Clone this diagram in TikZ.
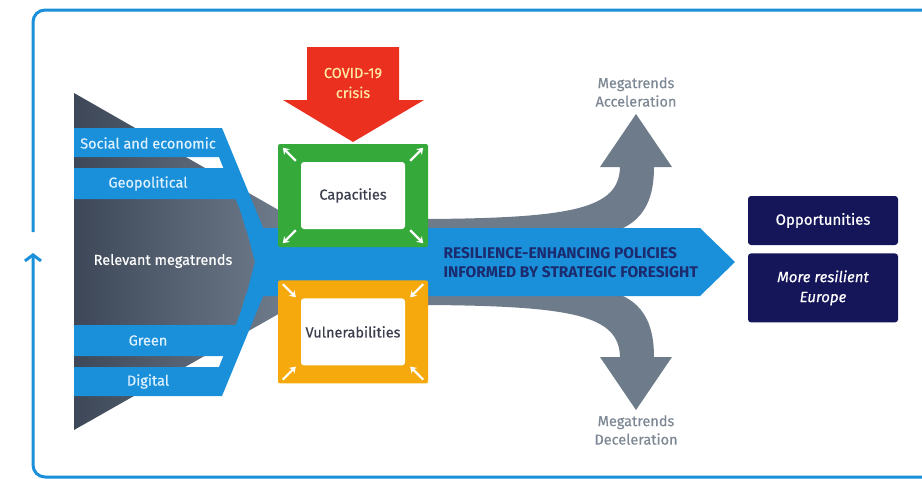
\documentclass[tikz,border=0pt]{standalone}
\usepackage{fontspec}
\setmainfont{Fira Sans}
\newfontfamily\semifont{Fira Sans}[FakeBold=0.5]
\usetikzlibrary{positioning,calc,arrows.meta}

\definecolor{ecblue}{HTML}{1A8FDA}
\definecolor{ecgrey}{HTML}{6E7B8B}
\definecolor{ecdark}{HTML}{3D4757}
\definecolor{ecnavy}{HTML}{15165A}
\definecolor{ecred}{HTML}{EC3020}
\definecolor{ecgreen}{HTML}{35A93A}
\definecolor{ecorange}{HTML}{F6A90D}
\definecolor{ecink}{HTML}{1C2A6E}
\definecolor{ecpale}{HTML}{DDF1FF}
\definecolor{eccream}{HTML}{FDE8A4}
\definecolor{ectrend}{HTML}{7D8894}
\definecolor{ecboxtext}{HTML}{3B3F4D}

\tikzset{
  band/.style={fill=ecblue},
  bandlabel/.style={text=ecpale, font=\semifont\fontsize{14.5}{16}\selectfont},
  framebox/.style={minimum width=150pt, minimum height=103pt, rounded corners=2pt, inner sep=0pt},
  innerbox/.style={fill=white, minimum width=104pt, minimum height=67pt, rounded corners=3pt,
    text=ecboxtext, font=\semifont\fontsize{14.5}{16}\selectfont},
  cornerarrow/.style={white, line width=2.2pt, -{Stealth[length=6pt,width=8pt]}},
  navybox/.style={fill=ecnavy, text=white, minimum width=150pt, rounded corners=3pt,
    align=center, font=\semifont\fontsize{15}{20}\selectfont},
  trendlabel/.style={text=ectrend, align=center, font=\semifont\fontsize{14.5}{18.5}\selectfont}
}

\begin{document}
\begin{tikzpicture}[x=1pt,y=-1pt]
  \useasboundingbox (0,0) rectangle (922,479);

  % frame
  \draw[ecblue, line width=3pt, rounded corners=12pt] (930,10) -- (33,10) -- (33,232);
  \draw[ecblue, line width=3pt, rounded corners=12pt, -{Straight Barb[length=6pt,width=16pt]}]
    (930,477) -- (33,477) -- (33,253);

  % grey funnel and curved megatrend arrows
  \shade[left color=ecdark, right color=ecgrey] (74,93) -- (282,212) -- (282,312) -- (74,430) -- cycle;
  \fill[ecgrey] (280,212) -- (428,219) .. controls (575,218) and (619,208) .. (620,167)
    -- (600,167) -- (636,114) -- (672,167) -- (654,167)
    .. controls (654,205) and (640,232) .. (590,236) -- (280,236) -- cycle;
  \fill[ecgrey] (280,312) -- (428,305) .. controls (575,306) and (619,316) .. (620,357)
    -- (600,357) -- (636,410) -- (672,357) -- (654,357)
    .. controls (654,319) and (640,292) .. (590,288) -- (280,288) -- cycle;

  % main band
  \fill[band] (246,228) -- (700,228) -- (735,262) -- (700,296) -- (246,296) -- (255,262) -- cycle;

  % megatrend bands
  \fill[band] (74,128) -- (222,128) -- (264,230) -- (248,230) -- (219,157) -- (74,157) -- cycle;
  \fill[band] (74,168) -- (226,168) -- (254,230) -- (246,230) -- (237,199) -- (74,199) -- cycle;
  \fill[band] (74,356) -- (226,356) -- (254,294) -- (246,294) -- (237,325) -- (74,325) -- cycle;
  \fill[band] (74,396) -- (222,396) -- (264,294) -- (248,294) -- (219,367) -- (74,367) -- cycle;

  \node[bandlabel] (social) at (148,143) {Social and economic};
  \node[bandlabel] (geo) at (148,183.5) {Geopolitical};
  \node[bandlabel] (green) at (148,340.5) {Green};
  \node[bandlabel] (digital) at (148,381.5) {Digital};
  \node[bandlabel, text=white] (relevant) at (163,261) {Relevant megatrends};

  % capacities and vulnerabilities
  \node[framebox, fill=ecgreen] (cap) at (353,195.5) {};
  \node[innerbox] (capin) at (cap) {Capacities};
  \node[framebox, fill=ecorange, below=33pt of cap] (vul) {};
  \node[innerbox] (vulin) at (vul) {Vulnerabilities};
  \foreach \a/\sx/\sy in {north west/1/1, north east/-1/1, south west/1/-1, south east/-1/-1} {
    \draw[cornerarrow] ($(cap.\a)+({18*\sx},{17*\sy})$) -- ($(cap.\a)+({5*\sx},{4*\sy})$);
    \draw[cornerarrow] ($(vul.\a)+({5*\sx},{4*\sy})$) -- ($(vul.\a)+({18*\sx},{17*\sy})$);
  }

  % covid arrow
  \fill[ecred] (307,47) -- (399,47) -- (399,100) -- (424,100) -- (353,142) -- (283,100) -- (307,100) -- cycle;
  \node[text=eccream, align=center, font=\semifont\fontsize{14.5}{20}\selectfont] (covid) at (353,83) {COVID-19\\crisis};

  % policies
  \node[anchor=west, align=left, text=ecink, font=\bfseries\fontsize{15.5}{19}\selectfont] (policy)
    at (440,262.5) {RESILIENCE-ENHANCING POLICIES\\INFORMED BY STRATEGIC FORESIGHT};

  \node[trendlabel] (accel) at (636,92) {Megatrends\\Acceleration};
  \node[trendlabel] (decel) at (636,430) {Megatrends\\Deceleration};

  % outcomes
  \node[navybox, minimum height=49pt] (opp) at (823,220.5) {Opportunities};
  \node[navybox, minimum height=69pt, below=8pt of opp, font=\semifont\itshape\fontsize{15}{20}\selectfont] (europe)
    {More resilient\\Europe};
\end{tikzpicture}
\end{document}
